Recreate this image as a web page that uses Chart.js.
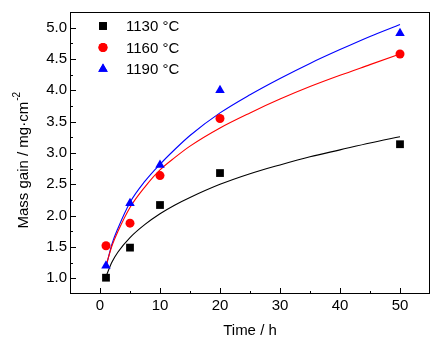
<!DOCTYPE html>
<html>
<head>
<meta charset="utf-8">
<script src="https://cdn.jsdelivr.net/npm/chart.js@4/dist/chart.umd.min.js"></script>
<style>
  html,body{margin:0;padding:0;background:#fff;}
  canvas{display:block;}
</style>
</head>
<body>
<canvas id="chart" width="437" height="338"></canvas>
<script>
// measured points
const timeH = [1, 5, 10, 20, 50];
const gain1130 = [1.01, 1.49, 2.17, 2.68, 3.14];
const gain1160 = [1.52, 1.88, 2.64, 3.55, 4.58];
const gain1190 = [1.20, 2.20, 2.81, 4.00, 4.91];

// fitted curves
const fitTime = [1, 2, 3, 5, 7.5, 10, 12.5, 15, 20, 25, 30, 35, 40, 45, 50];
const fit1130 = [1.03, 1.26, 1.42, 1.65, 1.86, 2.03, 2.17, 2.29, 2.50, 2.67, 2.81, 2.94, 3.05, 3.16, 3.26];
const fit1160 = [1.20, 1.52, 1.75, 2.13, 2.46, 2.73, 2.93, 3.11, 3.40, 3.64, 3.86, 4.06, 4.24, 4.41, 4.58];
const fit1190 = [1.18, 1.55, 1.80, 2.21, 2.55, 2.82, 3.06, 3.28, 3.64, 3.93, 4.19, 4.43, 4.65, 4.86, 5.05];

const seriesNames = ["1130 °C", "1160 °C", "1190 °C"];
const xTicks = [0, 10, 20, 30, 40, 50];
const xMinor = [5, 15, 25, 35, 45];
const yTicks = [1.0, 1.5, 2.0, 2.5, 3.0, 3.5, 4.0, 4.5, 5.0];
const yMinor = [1.25, 1.75, 2.25, 2.75, 3.25, 3.75, 4.25, 4.75];

const FONT = "Arial, 'Liberation Sans', sans-serif";
const colors = ["#000000", "#ff0000", "#0000ff"];
const styles = ["rect", "circle", "triangle"];
const radii = [5.5, 4.5, 5.5];

const pts = (xs, ys) => xs.map((x, i) => ({x: x, y: ys[i]}));

const gains = [gain1130, gain1160, gain1190];
const fits = [fit1130, fit1160, fit1190];

let datasets = [];
gains.forEach((g, i) => {
  datasets.push({
    label: seriesNames[i],
    data: pts(timeH, g),
    showLine: false,
    pointStyle: styles[i],
    pointRadius: radii[i],
    pointBackgroundColor: colors[i],
    pointBorderColor: colors[i],
    pointBorderWidth: 0,
    order: 0
  });
});
fits.forEach((f, i) => {
  datasets.push({
    label: "fit" + i,
    data: pts(fitTime, f),
    showLine: true,
    borderColor: colors[i],
    borderWidth: 1.1,
    pointRadius: 0,
    cubicInterpolationMode: "monotone",
    order: 1
  });
});

// frame, inward ticks, y title, legend
const decor = {
  id: "decor",
  afterDraw(c) {
    const ctx = c.ctx, a = c.chartArea;
    const xs = c.scales.x, ys = c.scales.y;
    ctx.save();
    ctx.strokeStyle = "#000";
    ctx.lineWidth = 1;
    ctx.strokeRect(a.left + 0.5, a.top + 0.5, a.right - a.left - 1, a.bottom - a.top - 1);
    ctx.beginPath();
    xTicks.forEach(v => {
      const p = Math.round(xs.getPixelForValue(v)) + 0.5;
      ctx.moveTo(p, a.bottom); ctx.lineTo(p, a.bottom - 6);
    });
    xMinor.forEach(v => {
      const p = Math.round(xs.getPixelForValue(v)) + 0.5;
      ctx.moveTo(p, a.bottom); ctx.lineTo(p, a.bottom - 3);
    });
    yTicks.forEach(v => {
      const p = Math.round(ys.getPixelForValue(v)) + 0.5;
      ctx.moveTo(a.left, p); ctx.lineTo(a.left + 6, p);
    });
    yMinor.forEach(v => {
      const p = Math.round(ys.getPixelForValue(v)) + 0.5;
      ctx.moveTo(a.left, p); ctx.lineTo(a.left + 3, p);
    });
    ctx.stroke();

    // y title with superscript
    ctx.fillStyle = "#000";
    ctx.translate(28, 228.5);
    ctx.rotate(-Math.PI / 2);
    ctx.textAlign = "left";
    ctx.textBaseline = "alphabetic";
    ctx.font = "15px " + FONT;
    const main = "Mass gain / mg\u00b7cm";
    ctx.fillText(main, 0, 0);
    const w = ctx.measureText(main).width;
    ctx.font = "10px " + FONT;
    ctx.fillText("-2", w + 1, -8);
    ctx.restore();

    // legend
    ctx.save();
    ctx.font = "15px " + FONT;
    ctx.textBaseline = "middle";
    ctx.textAlign = "left";
    seriesNames.forEach((n, i) => {
      const y = 26 + 21.5 * i;
      ctx.fillStyle = colors[i];
      ctx.strokeStyle = colors[i];
      Chart.helpers.drawPoint(ctx, {pointStyle: styles[i], radius: radii[i], borderWidth: 0, rotation: 0}, 103, y);
      ctx.fill();
      ctx.fillStyle = "#000";
      ctx.fillText(n, 126, y + 1);
    });
    ctx.restore();
  }
};

new Chart(document.getElementById("chart"), {
  type: "scatter",
  data: {datasets: datasets},
  plugins: [decor],
  options: {
    responsive: false,
    animation: false,
    devicePixelRatio: 1,
    layout: {padding: {top: 5, right: 7, left: 0, bottom: 0}},
    plugins: {legend: {display: false}, tooltip: {enabled: false}},
    scales: {
      x: {
        type: "linear",
        min: -5, max: 55,
        afterBuildTicks: s => { s.ticks = xTicks.map(v => ({value: v})); },
        afterFit: s => { s.height = 44; },
        grid: {display: false, drawTicks: false},
        border: {display: false},
        ticks: {color: "#000", font: {family: FONT, size: 15}, padding: 3, maxRotation: 0},
        title: {display: true, text: "Time / h", color: "#000", font: {family: FONT, size: 15, lineHeight: 1}, padding: 0}
      },
      y: {
        type: "linear",
        min: 0.75, max: 5.25,
        afterBuildTicks: s => { s.ticks = yTicks.map(v => ({value: v})); },
        afterFit: s => { s.width = 70; },
        grid: {display: false, drawTicks: false},
        border: {display: false},
        ticks: {color: "#000", font: {family: FONT, size: 15}, padding: 3, callback: v => v.toFixed(1)}
      }
    }
  }
});
</script>
</body>
</html>
